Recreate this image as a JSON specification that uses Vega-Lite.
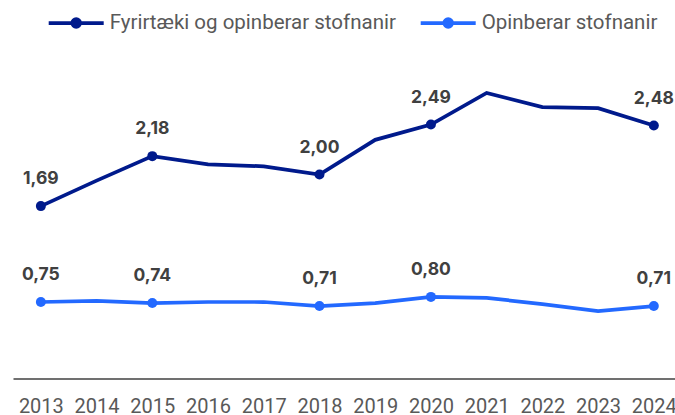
{
  "$schema": "https://vega.github.io/schema/vega-lite/v6.json",
  "autosize": "none",
  "width": 662,
  "height": 306,
  "padding": {"left": 13, "top": 72.5, "right": 0, "bottom": 36.5},
  "config": {
    "view": {"stroke": null},
    "font": "Roboto",
    "locale": {"number": {"decimal": ",", "thousands": ".", "grouping": [3], "currency": ["", " kr."]}}
  },
  "data": {
    "values": [
      {"series": "Fyrirtæki og opinberar stofnanir", "year": 2013, "value": 1.69},
      {"series": "Fyrirtæki og opinberar stofnanir", "year": 2014, "value": 1.94},
      {"series": "Fyrirtæki og opinberar stofnanir", "year": 2015, "value": 2.18},
      {"series": "Fyrirtæki og opinberar stofnanir", "year": 2016, "value": 2.10},
      {"series": "Fyrirtæki og opinberar stofnanir", "year": 2017, "value": 2.08},
      {"series": "Fyrirtæki og opinberar stofnanir", "year": 2018, "value": 2.00},
      {"series": "Fyrirtæki og opinberar stofnanir", "year": 2019, "value": 2.34},
      {"series": "Fyrirtæki og opinberar stofnanir", "year": 2020, "value": 2.49},
      {"series": "Fyrirtæki og opinberar stofnanir", "year": 2021, "value": 2.80},
      {"series": "Fyrirtæki og opinberar stofnanir", "year": 2022, "value": 2.66},
      {"series": "Fyrirtæki og opinberar stofnanir", "year": 2023, "value": 2.65},
      {"series": "Fyrirtæki og opinberar stofnanir", "year": 2024, "value": 2.48},
      {"series": "Opinberar stofnanir", "year": 2013, "value": 0.75},
      {"series": "Opinberar stofnanir", "year": 2014, "value": 0.76},
      {"series": "Opinberar stofnanir", "year": 2015, "value": 0.74},
      {"series": "Opinberar stofnanir", "year": 2016, "value": 0.75},
      {"series": "Opinberar stofnanir", "year": 2017, "value": 0.75},
      {"series": "Opinberar stofnanir", "year": 2018, "value": 0.71},
      {"series": "Opinberar stofnanir", "year": 2019, "value": 0.74},
      {"series": "Opinberar stofnanir", "year": 2020, "value": 0.80},
      {"series": "Opinberar stofnanir", "year": 2021, "value": 0.79},
      {"series": "Opinberar stofnanir", "year": 2022, "value": 0.73},
      {"series": "Opinberar stofnanir", "year": 2023, "value": 0.66},
      {"series": "Opinberar stofnanir", "year": 2024, "value": 0.71}
    ]
  },
  "encoding": {
    "x": {
      "field": "year",
      "type": "quantitative",
      "scale": {"domain": [2012.5, 2024.38], "nice": false, "zero": false},
      "axis": {
        "values": [2013, 2014, 2015, 2016, 2017, 2018, 2019, 2020, 2021, 2022, 2023, 2024],
        "format": "d",
        "title": null,
        "grid": false,
        "ticks": false,
        "tickSize": 0,
        "labelPadding": 18,
        "labelFont": "Roboto",
        "labelFontSize": 20,
        "labelColor": "#595959",
        "labelOverlap": false,
        "labelFlush": false,
        "domainColor": "#404040",
        "domainWidth": 1.3
      }
    },
    "y": {
      "field": "value",
      "type": "quantitative",
      "scale": {"domain": [0, 3], "nice": false},
      "axis": null
    },
    "color": {
      "field": "series",
      "type": "nominal",
      "scale": {
        "domain": ["Fyrirtæki og opinberar stofnanir", "Opinberar stofnanir"],
        "range": ["#001A8C", "#2369FF"]
      },
      "legend": {
        "title": null,
        "orient": "none",
        "direction": "horizontal",
        "legendX": 33.7,
        "legendY": -79,
        "padding": 0,
        "symbolType": "M-1,0L1,0M-0.14,0A0.14,0.14,0,1,1,0.14,0A0.14,0.14,0,1,1,-0.14,0Z",
        "symbolSize": 3025,
        "symbolStrokeWidth": 3.75,
        "labelFont": "Roboto",
        "labelFontSize": 20.5,
        "labelColor": "#595959",
        "labelLimit": 500,
        "labelOffset": 4,
        "columnPadding": 16
      }
    }
  },
  "layer": [
    {"mark": {"type": "line", "strokeWidth": 3.75}},
    {
      "transform": [{"filter": {"field": "year", "oneOf": [2013, 2015, 2018, 2020, 2024]}}],
      "mark": {"type": "point", "filled": true, "size": 100, "opacity": 1}
    },
    {
      "transform": [{"filter": {"field": "year", "oneOf": [2013, 2015, 2018, 2020, 2024]}}],
      "mark": {"type": "text", "font": "Inter", "fontWeight": "bold", "fontSize": 17.5, "dy": -22, "baseline": "alphabetic", "align": "center"},
      "encoding": {
        "text": {"field": "value", "type": "quantitative", "format": ".2f"},
        "color": {"value": "#404040"}
      }
    }
  ]
}
